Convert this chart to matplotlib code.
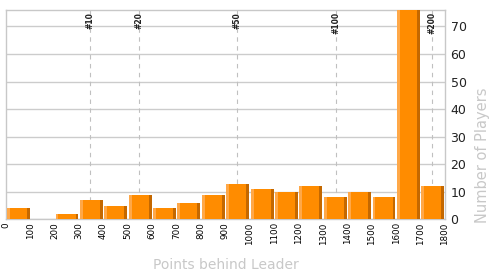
import numpy as np
import matplotlib
matplotlib.use("Agg")
import matplotlib.pyplot as plt

# ==========================
# Data
# ==========================

bin_starts = list(range(0, 1800, 100))
players = [4, 0, 2, 7, 5, 9, 4, 6, 9, 13, 11, 10, 12, 8, 10, 8, 90, 12]

rank_labels = ["#10", "#20", "#50", "#100", "#200"]
rank_points = [346, 547, 948, 1353, 1748]

x_ticks = list(range(0, 1900, 100))
y_ticks = list(range(0, 80, 10))

# ==========================
# Figure
# ==========================

fig = plt.figure(figsize=(5, 2.75), dpi=100)
ax = fig.add_axes([0.012, 0.202, 0.878, 0.762])

main_col = "#ff8c00"
light_col = "#ffa848"
dark_col = "#c46800"

bar_w = 94
stripe = 12
left = np.array(bin_starts) + 3

ax.bar(left, players, width=bar_w, align="edge", color=main_col, zorder=3)
ax.bar(left, players, width=stripe, align="edge", color=light_col, zorder=4)
ax.bar(left + bar_w - stripe, players, width=stripe, align="edge",
       color=dark_col, zorder=4)

# rank markers
for lab, pos in zip(rank_labels, rank_points):
    ax.axvline(pos, color="#c0c0c0", linestyle=(0, (4, 4)), linewidth=0.8,
               zorder=2)
    ax.text(pos, 75.3, lab, rotation=90, ha="center", va="top",
            fontsize=5.5, fontweight="bold", color="#222222", zorder=5)

ax.set_xlim(0, 1800)
ax.set_ylim(0, 76)

ax.set_xticks(x_ticks)
ax.set_xticklabels([str(t) for t in x_ticks], rotation=90, fontsize=6.3)
ax.set_yticks(y_ticks)
ax.yaxis.tick_right()
ax.yaxis.set_label_position("right")
ax.tick_params(axis="y", labelsize=9, length=0, pad=4, labelcolor="#222222")
ax.tick_params(axis="x", length=0, pad=2)

ax.grid(axis="y", color="#cccccc", linewidth=1, zorder=1)

for side in ["left", "top", "right", "bottom"]:
    ax.spines[side].set_color("#c8c8c8")
    ax.spines[side].set_linewidth(1)

ax.set_xlabel("Points behind Leader", fontsize=10, color="#c8c8c8",
              labelpad=10)
ax.set_ylabel("Number of Players", fontsize=10.5, color="#c8c8c8")
ax.yaxis.set_label_coords(1.068, 0.308)

plt.savefig("out.png", dpi=100)
